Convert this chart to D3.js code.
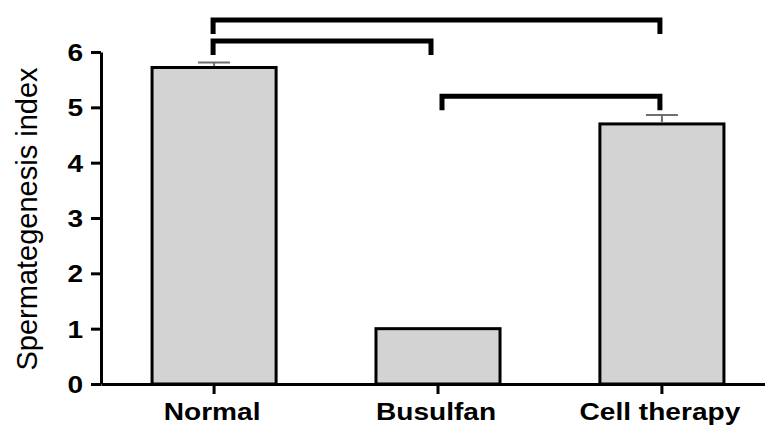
<!DOCTYPE html>
<html><head><meta charset="utf-8">
<script src="https://cdn.jsdelivr.net/npm/d3@7"></script>
<style>
html,body{margin:0;padding:0;background:#fff;}
svg{display:block;}
text{font-family:"Liberation Sans",Arial,sans-serif;fill:#000;}
</style></head>
<body><svg id="chart" width="765" height="426"></svg>
<script>
const categories = ["Normal", "Busulfan", "Cell therapy"];
const means = [5.72, 1.0, 4.70];
const errors = [0.09, 0, 0.16];
const yTicks = [0, 1, 2, 3, 4, 5, 6];
const bracketPairs = [[0, 2], [0, 1], [1, 2]];
const bracketLevels = [6.58, 6.2, 5.2];
const yLabel = "Spermategenesis index";

const svg = d3.select("#chart");
const SX = 1.17; // horizontal stretch of the original picture's tick labels
const y = d3.scaleLinear().domain([0, 6]).range([384, 52]);
const x = d3.scaleBand().domain(categories).range([101, 775])
  .paddingInner(0.446).paddingOuter(0.228);

// bars
svg.append("g").selectAll("rect").data(categories).join("rect")
  .attr("x", d => x(d))
  .attr("y", (d, i) => y(means[i]))
  .attr("width", x.bandwidth())
  .attr("height", (d, i) => y(0) - y(means[i]))
  .attr("fill", "#d3d3d3")
  .attr("stroke", "#000")
  .attr("stroke-width", 3);

// error bars
const eg = svg.append("g").attr("stroke", "#6e6e6e").attr("stroke-width", 2);
categories.forEach((c, i) => {
  if (!errors[i]) return;
  const cx = x(c) + x.bandwidth() / 2;
  eg.append("line").attr("x1", cx).attr("x2", cx)
    .attr("y1", y(means[i]) - 1.5).attr("y2", y(means[i] + errors[i]));
  eg.append("line").attr("x1", cx - 16).attr("x2", cx + 16)
    .attr("y1", y(means[i] + errors[i])).attr("y2", y(means[i] + errors[i]));
});

// y axis
const ya = svg.append("g").attr("transform", "translate(101,0)")
  .call(d3.axisLeft(y).tickValues(yTicks).tickFormat(d3.format("d")).tickSize(10).tickSizeOuter(0));
ya.select(".domain").attr("stroke-width", 3);
ya.selectAll(".tick line").attr("stroke-width", 3);
ya.selectAll(".tick text")
  .attr("font-size", 24).attr("font-weight", "bold")
  .attr("font-family", "'Liberation Sans',Arial,sans-serif")
  .each(function () {
    const t = d3.select(this);
    t.attr("x", 0).attr("dy", "0.36em").attr("transform", `translate(-18,0) scale(${SX},1)`);
  });

// x axis
const xa = svg.append("g").attr("transform", "translate(0,384)")
  .call(d3.axisBottom(x).tickSize(10).tickSizeOuter(0));
xa.select(".domain").attr("stroke-width", 3);
xa.selectAll(".tick line").attr("stroke-width", 3);
xa.selectAll(".tick text")
  .attr("font-size", 24).attr("font-weight", "bold")
  .attr("font-family", "'Liberation Sans',Arial,sans-serif")
  .attr("y", 0).attr("dy", 0)
  .attr("transform", `translate(-2,36) scale(${SX},1)`);

// y label
svg.append("text")
  .attr("transform", "translate(37,219) rotate(-90)")
  .attr("text-anchor", "middle")
  .attr("font-size", 29)
  .text(yLabel);

// significance brackets
const legLen = 14;
const hasLeft = new Set(bracketPairs.map(p => p[0]));
const hasRight = new Set(bracketPairs.map(p => p[1]));
const bg = svg.append("g").attr("fill", "none").attr("stroke", "#000")
  .attr("stroke-width", 5).attr("stroke-linejoin", "miter");
bracketPairs.forEach((p, k) => {
  const inset = i => (hasLeft.has(i) && hasRight.has(i)) ? 5 : 0;
  const x1 = x(categories[p[0]]) + x.bandwidth() / 2 + inset(p[0]) - 1;
  const x2 = x(categories[p[1]]) + x.bandwidth() / 2 - inset(p[1]) - 2;
  const yy = y(bracketLevels[k]);
  bg.append("path").attr("d", `M${x1},${yy + legLen}V${yy}H${x2}V${yy + legLen}`);
});
</script></body></html>
